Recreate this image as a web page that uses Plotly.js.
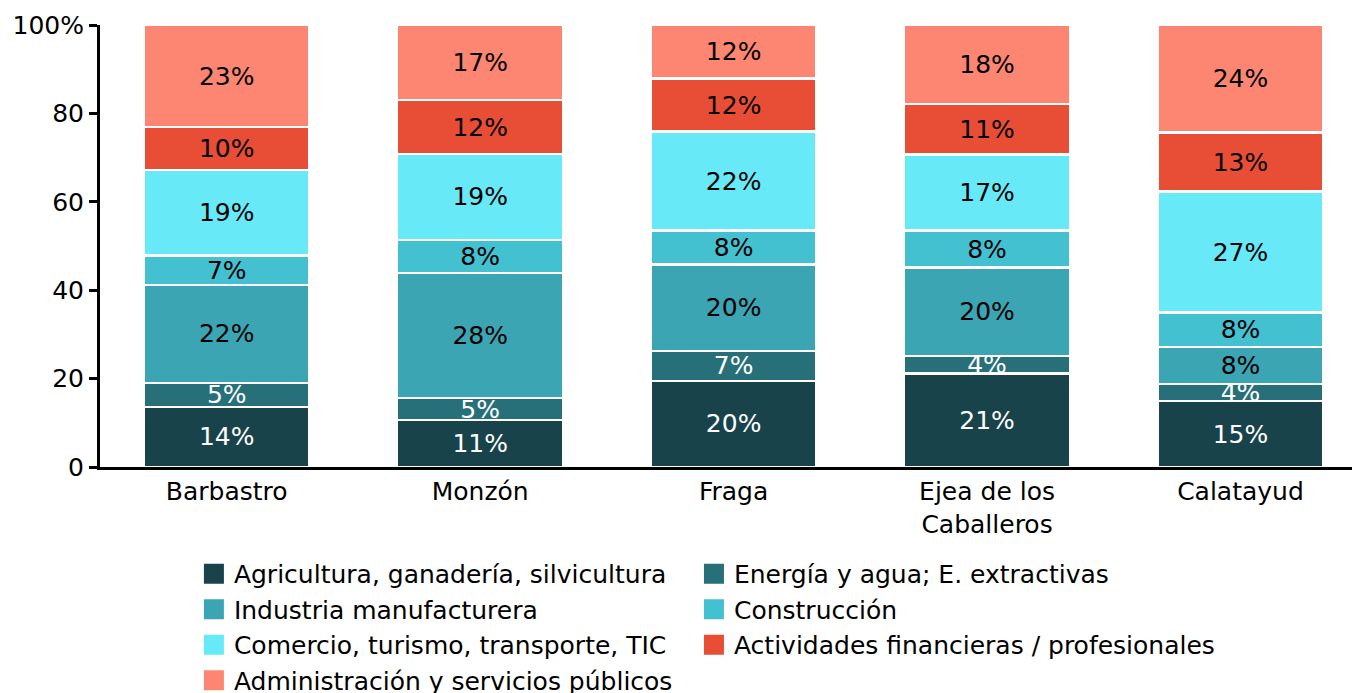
<!DOCTYPE html>
<html>
<head>
<meta charset="utf-8">
<script src="https://cdn.plot.ly/plotly-3.0.1.min.js"></script>
<style>html,body{margin:0;padding:0;background:#fff;}#chart{width:1352px;height:693px;}</style>
</head>
<body>
<div id="chart"></div>
<script>
const categories = ["Barbastro", "Monzón", "Fraga", "Ejea de los<br>Caballeros", "Calatayud"];
const seriesNames = [
  "Agricultura, ganadería, silvicultura",
  "Energía y agua; E. extractivas",
  "Industria manufacturera",
  "Construcción",
  "Comercio, turismo, transporte, TIC",
  "Actividades financieras / profesionales",
  "Administración y servicios públicos"
];
const agricultura   = [13.6, 10.6, 19.5, 21.1, 14.9];
const energia       = [5.4, 5.0, 6.8, 4.0, 3.9];
const industria     = [22.2, 28.3, 19.5, 20.0, 8.4];
const construccion  = [6.6, 7.5, 7.7, 8.4, 7.7];
const comercio      = [19.4, 19.4, 22.4, 17.2, 27.4];
const financieras   = [9.7, 12.2, 12.0, 11.4, 13.4];
const administracion= [23.1, 17.0, 12.1, 17.9, 24.3];
const seriesValues = [agricultura, energia, industria, construccion, comercio, financieras, administracion];
const colors = ["#19434A", "#27707A", "#3BA5B3", "#44C1D1", "#67E9F8", "#E84E35", "#FD8672"];
const textColors = ["#ffffff", "#ffffff", "#000000", "#000000", "#000000", "#000000", "#000000"];
const yTickVals = [0, 20, 40, 60, 80, 100];
const yTickText = ["0", "20", "40", "60", "80", "100%"];

const FONT = "DejaVu Sans, Verdana, sans-serif";
const FS = 25;
const traces = [];
seriesValues.forEach((vals, i) => {
  traces.push({
    type: "bar",
    x: categories,
    y: vals,
    name: seriesNames[i],
    showlegend: false,
    marker: {color: colors[i], line: {color: "#ffffff", width: 2.5}},
    texttemplate: "%{y:.0f}%",
    textposition: "inside",
    insidetextanchor: "middle",
    textangle: 0,
    textfont: {family: FONT, size: FS, color: textColors[i]},
    hoverinfo: "skip"
  });
});
seriesValues.forEach((vals, i) => {
  traces.push({
    type: "scatter",
    mode: "markers",
    x: [null], y: [null],
    name: seriesNames[i],
    legend: (i % 2 === 0) ? "legend" : "legend2",
    marker: {symbol: "square", size: 16, color: colors[i], line: {color: colors[i], width: 4}},
    hoverinfo: "skip"
  });
});

const legendBase = {
  orientation: "v",
  traceorder: "normal",
  xanchor: "left",
  y: -0.19, yanchor: "top",
  font: {family: FONT, size: FS, color: "#000000"},
  bgcolor: "rgba(0,0,0,0)",
  tracegroupgap: 0
};

const layout = {
  width: 1352, height: 693,
  margin: {l: 100, r: 0, t: 25, b: 226, autoexpand: false},
  barmode: "stack",
  bargap: 0.345,
  paper_bgcolor: "#ffffff",
  plot_bgcolor: "#ffffff",
  font: {family: FONT, size: FS, color: "#000000"},
  uniformtext: {mode: "show", minsize: FS},
  xaxis: {
    type: "category",
    range: [-0.5, 4.44],
    showline: true, linecolor: "#000000", linewidth: 3,
    ticks: "", showgrid: false, zeroline: false,
    tickfont: {family: FONT, size: FS, color: "#000000"}
  },
  yaxis: {
    range: [0, 100],
    tickvals: yTickVals, ticktext: yTickText,
    showline: true, linecolor: "#000000", linewidth: 3,
    ticks: "outside", ticklen: 8, tickwidth: 3, tickcolor: "#000000",
    showgrid: false, zeroline: false,
    tickfont: {family: FONT, size: FS, color: "#000000"}
  },
  legend: Object.assign({}, legendBase, {x: 0.075}),
  legend2: Object.assign({}, legendBase, {x: 0.4744}),
  showlegend: true
};
Plotly.newPlot("chart", traces, layout, {displayModeBar: false, staticPlot: true});
</script>
</body>
</html>
